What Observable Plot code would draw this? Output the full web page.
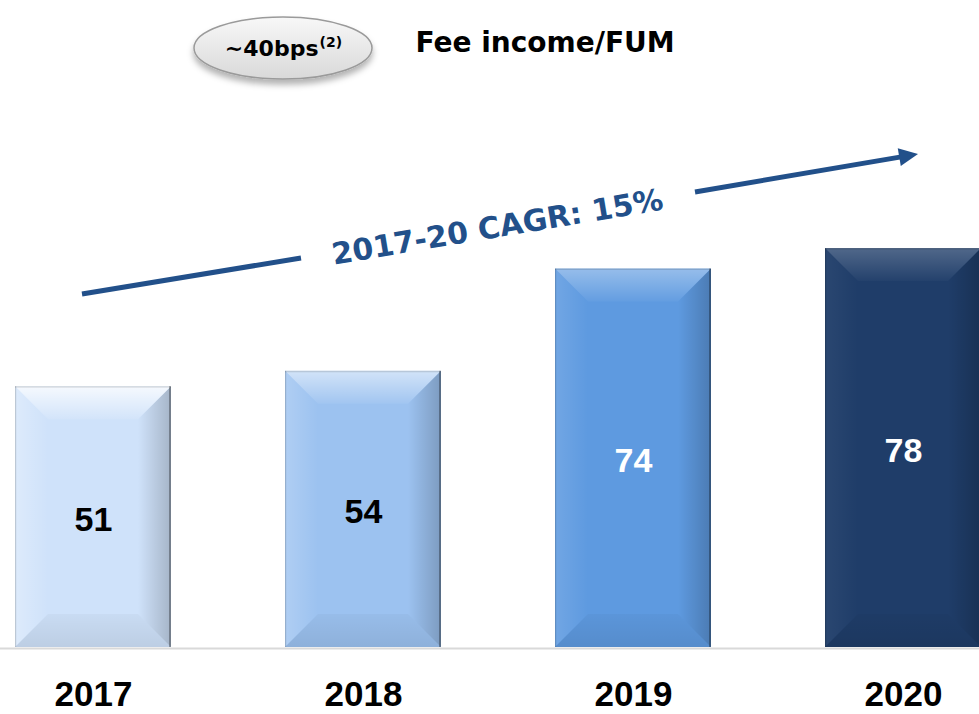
<!DOCTYPE html>
<html>
<head>
<meta charset="utf-8">
<script src="https://cdn.jsdelivr.net/npm/d3@7"></script>
<script src="https://cdn.jsdelivr.net/npm/@observablehq/plot@0.6"></script>
<style>
  html, body { margin: 0; padding: 0; background: #fff; overflow: hidden; }
  #chart svg { display: block; }
</style>
</head>
<body>
<div id="chart"></div>
<script>
// ---- data ----
const years = ["2017", "2018", "2019", "2020"];
const values = [51, 54, 74, 78];
const barColors = ["#CFE2FA", "#9CC2F0", "#5E9AE0", "#1F3D69"];
const labelColors = ["#000000", "#000000", "#FFFFFF", "#FFFFFF"];
const title = "Fee income/FUM";
const badgeText = "~40bps";
const badgeNote = "(2)";
const cagrLabel = "2017-20 CAGR: 15%";

const data = years.map((year, i) => ({year, value: values[i], color: barColors[i], label: labelColors[i]}));

const W = 979, H = 714;
const arrowColor = "#22508A";

// bevel strength per bar (light bars get stronger highlights)
const topHi = [0.8, 0.55, 0.35, 0.22];
const leftHi = [0.3, 0.2, 0.12, 0.05];

// bevel overlay drawn with the plot's scales
function bevelMark(index, scales) {
  const {x, y} = scales;
  const bw = x.bandwidth ? x.bandwidth() : 156;
  const g = d3.create("svg:g").attr("aria-label", "bevel");
  const defs = g.append("defs");
  const lin = (id, x2, y2, stops) => {
    const lg = defs.append("linearGradient").attr("id", id)
      .attr("x1", 0).attr("y1", 0).attr("x2", x2).attr("y2", y2);
    stops.forEach(([o, c, a]) => lg.append("stop").attr("offset", o).attr("stop-color", c).attr("stop-opacity", a));
  };
  lin("bvRight", 1, 0, [[0, "#000", 0.0], [1, "#000", 0.2]]);
  lin("bvBottom", 0, 1, [[0, "#000", 0.03], [1, "#000", 0.09]]);
  data.forEach((d, i) => {
    lin("bvTop" + i, 0, 1, [[0, "#fff", topHi[i]], [1, "#fff", topHi[i] * 0.1]]);
    lin("bvLeft" + i, 1, 0, [[0, "#fff", leftHi[i]], [1, "#fff", 0.0]]);
    const x0 = x(d.year), x1 = x0 + bw, y0 = y(d.value), y1 = y(0), b = 33;
    const poly = (pts, fill) => g.append("polygon").attr("points", pts.map(p => p.join(",")).join(" ")).attr("fill", fill);
    poly([[x0, y0], [x0 + b, y0 + b], [x0 + b, y1 - b], [x0, y1]], `url(#bvLeft${i})`);
    poly([[x1, y0], [x1 - b, y0 + b], [x1 - b, y1 - b], [x1, y1]], "url(#bvRight)");
    poly([[x0, y0], [x1, y0], [x1 - b, y0 + b], [x0 + b, y0 + b]], `url(#bvTop${i})`);
    poly([[x0, y1], [x1, y1], [x1 - b, y1 - b], [x0 + b, y1 - b]], "url(#bvBottom)");
    g.append("rect").attr("x", x1 - 2).attr("y", y0).attr("width", 2).attr("height", y1 - y0).attr("fill", "#000").attr("fill-opacity", 0.3);
    g.append("rect").attr("x", x0).attr("y", y0).attr("width", 1.2).attr("height", y1 - y0).attr("fill", "#000").attr("fill-opacity", 0.15);
    g.append("rect").attr("x", x0).attr("y", y0).attr("width", bw).attr("height", 1.5).attr("fill", "#000").attr("fill-opacity", 0.12);
  });
  return g.node();
}

// header badge + CAGR arrow (annotation, pixel layout)
function decorMark() {
  const g = d3.create("svg:g").attr("aria-label", "annotations");
  const defs = g.append("defs");
  const f = defs.append("filter").attr("id", "badgeShadow").attr("x", "-20%").attr("y", "-20%").attr("width", "140%").attr("height", "160%");
  f.append("feDropShadow").attr("dx", 0).attr("dy", 5).attr("stdDeviation", 3).attr("flood-color", "#000").attr("flood-opacity", 0.3);
  const lg = defs.append("linearGradient").attr("id", "badgeFill").attr("x1", 0).attr("y1", 0).attr("x2", 0).attr("y2", 1);
  lg.append("stop").attr("offset", 0).attr("stop-color", "#f8f8f8");
  lg.append("stop").attr("offset", 1).attr("stop-color", "#d9d9d9");
  g.append("ellipse").attr("cx", 283).attr("cy", 48).attr("rx", 89).attr("ry", 31)
    .attr("fill", "url(#badgeFill)").attr("stroke", "#9a9a9a").attr("stroke-width", 1.5)
    .attr("filter", "url(#badgeShadow)");
  // arrow: two segments with a gap for the label
  g.append("line").attr("x1", 82).attr("y1", 294).attr("x2", 301).attr("y2", 258)
    .attr("stroke", arrowColor).attr("stroke-width", 5);
  const ax0 = 695, ay0 = 192, ax1 = 918, ay1 = 154;
  const ang = Math.atan2(ay1 - ay0, ax1 - ax0);
  const hl = 19, hw = 9;
  const bx = ax1 - hl * Math.cos(ang), by = ay1 - hl * Math.sin(ang);
  g.append("line").attr("x1", ax0).attr("y1", ay0).attr("x2", bx + 2 * Math.cos(ang)).attr("y2", by + 2 * Math.sin(ang))
    .attr("stroke", arrowColor).attr("stroke-width", 5);
  const px = -Math.sin(ang), py = Math.cos(ang);
  g.append("polygon").attr("points", [
    [ax1, ay1], [bx + hw * px, by + hw * py], [bx - hw * px, by - hw * py]
  ].map(p => p.join(",")).join(" ")).attr("fill", arrowColor);
  return g.node();
}

const plot = Plot.plot({
  width: W,
  height: H,
  marginTop: 0,
  marginRight: 0,
  marginBottom: 67,
  marginLeft: 0,
  style: {background: "#fff", fontFamily: "'DejaVu Sans', sans-serif", overflow: "hidden", color: "#000"},
  x: {domain: years, range: [13.5, 982.5], paddingInner: 0.424, paddingOuter: 0, label: null},
  y: {domain: [0, 126.5], axis: null},
  color: {type: "identity"},
  marks: [
    Plot.ruleY([0], {stroke: "#d9d9d9", strokeWidth: 2, dy: 1}),
    Plot.barY(data, {x: "year", y: "value", fill: "color"}),
    bevelMark,
    Plot.text(data, {
      x: "year", y: d => d.value / 2, text: d => String(d.value), fill: "label",
      fontSize: 34, fontWeight: "bold", fontFamily: "'Liberation Sans', Arial, sans-serif", dy: 3
    }),
    Plot.axisX({
      tickSize: 0, tickPadding: 34, fontSize: 35, fontWeight: "bold",
      fontFamily: "'Liberation Sans', Arial, sans-serif", label: null
    }),
    decorMark,
    Plot.text([title], {
      frameAnchor: "top-left", lineAnchor: "middle", dx: 415, dy: 43, text: d => d, textAnchor: "start",
      fontSize: 28, fontWeight: "bold", fill: "#000", letterSpacing: 1.1
    }),
    Plot.text([badgeText], {
      frameAnchor: "top-left", lineAnchor: "middle", dx: 318, dy: 48, text: d => d, textAnchor: "end",
      fontSize: 22, fontWeight: "bold", fill: "#000"
    }),
    Plot.text([badgeNote], {
      frameAnchor: "top-left", lineAnchor: "middle", dx: 319, dy: 42, text: d => d, textAnchor: "start",
      fontSize: 14, fontWeight: "bold", fill: "#000"
    }),
    Plot.text([cagrLabel], {
      frameAnchor: "top-left", lineAnchor: "middle", dx: 497, dy: 227, text: d => d, textAnchor: "middle",
      rotate: -9.5, fontSize: 30, fontWeight: "bold", fill: arrowColor, letterSpacing: 0.5
    })
  ]
});
document.getElementById("chart").appendChild(plot);
</script>
</body>
</html>
